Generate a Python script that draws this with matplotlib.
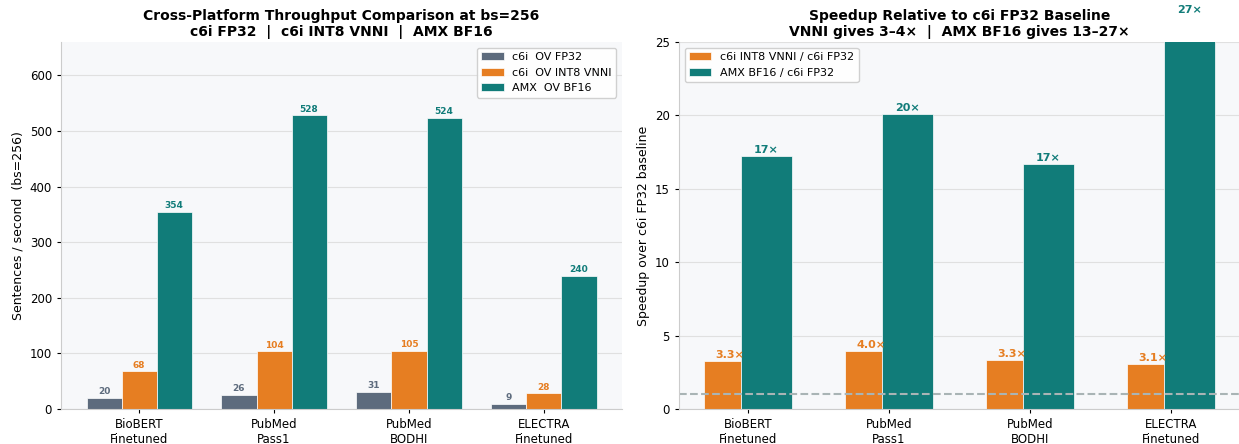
import matplotlib
import numpy as np

matplotlib.use("Agg")
import matplotlib.pyplot as plt  # noqa: E402

models = ["BioBERT\nFinetuned", "PubMed\nPass1", "PubMed\nBODHI", "ELECTRA\nFinetuned"]
fp32_tput = [20, 26, 31, 9]
int8_tput = [68, 104, 105, 28]
bf16_tput = [354, 528, 524, 240]
vnni_speedup = [3.29, 3.95, 3.34, 3.07]
amx_speedup = [17.26, 20.1, 16.71, 26.8]

GREY = "#5D6B7D"
ORANGE = "#E67E22"
TEAL = "#117C79"
BG = "#F7F8FA"


def style_axes(ax):
    ax.set_facecolor(BG)
    ax.spines["top"].set_visible(False)
    ax.spines["right"].set_visible(False)
    ax.spines["left"].set_color("#CCCCCC")
    ax.spines["bottom"].set_color("#CCCCCC")
    ax.yaxis.grid(True, color="#E0E0E0", linewidth=0.8)
    ax.set_axisbelow(True)
    ax.tick_params(labelsize=8.5, length=3)


fig = plt.figure(figsize=(12.39, 4.44), dpi=100)
ax1 = fig.add_axes([61 / 1239, 35 / 444, 561 / 1239, 367 / 444])
ax2 = fig.add_axes([679 / 1239, 35 / 444, 561 / 1239, 367 / 444])

# left: raw throughput
x = np.arange(len(models))
w = 0.26
series = [
    (fp32_tput, GREY, "c6i  OV FP32", -w),
    (int8_tput, ORANGE, "c6i  OV INT8 VNNI", 0),
    (bf16_tput, TEAL, "AMX  OV BF16", w),
]
for values, color, label, offset in series:
    bars = ax1.bar(x + offset, values, w, color=color, label=label,
                   edgecolor="white", linewidth=0.5)
    for bar, v in zip(bars, values):
        ax1.text(bar.get_x() + bar.get_width() / 2, v + 3, f"{v}", ha="center",
                 va="bottom", fontsize=6.5, fontweight="bold", color=color)
style_axes(ax1)
ax1.set_xticks(x)
ax1.set_xticklabels(models)
ax1.set_ylim(0, max(bf16_tput) * 1.25)
ax1.set_ylabel("Sentences / second  (bs=256)", fontsize=9)
ax1.set_title("Cross-Platform Throughput Comparison at bs=256\n"
              "c6i FP32  |  c6i INT8 VNNI  |  AMX BF16",
              fontsize=10, fontweight="bold", pad=4)
ax1.legend(loc="upper right", fontsize=8, framealpha=0.9, edgecolor="#CCCCCC")

# right: speedup over fp32
bars_v = ax2.bar(x - 0.18, vnni_speedup, 0.26, color=ORANGE,
                 label="c6i INT8 VNNI / c6i FP32", edgecolor="white", linewidth=0.5)
bars_a = ax2.bar(x + 0.13, amx_speedup, 0.36, color=TEAL,
                 label="AMX BF16 / c6i FP32", edgecolor="white", linewidth=0.5)
for bar, v in zip(bars_v, vnni_speedup):
    ax2.text(bar.get_x() + bar.get_width() / 2 + 0.05, v + 0.05, f"{v:.1f}×",
             ha="center", va="bottom", fontsize=8, fontweight="bold", color=ORANGE)
for bar, v in zip(bars_a, amx_speedup):
    ax2.text(bar.get_x() + bar.get_width() / 2, v + 0.05, f"{v:.0f}×",
             ha="center", va="bottom", fontsize=8, fontweight="bold", color=TEAL,
             clip_on=False)
ax2.axhline(1, color="#A9B4B5", linestyle="--", linewidth=1.5)
style_axes(ax2)
ax2.set_xticks(x)
ax2.set_xticklabels(models)
ax2.set_ylim(0, 25)
ax2.set_ylabel("Speedup over c6i FP32 baseline", fontsize=9)
ax2.set_title("Speedup Relative to c6i FP32 Baseline\n"
              "VNNI gives 3–4×  |  AMX BF16 gives 13–27×",
              fontsize=10, fontweight="bold", pad=4)
ax2.legend(loc="upper left", fontsize=8, framealpha=0.9, edgecolor="#CCCCCC")

fig.savefig("out.png", dpi=100)
plt.close(fig)
